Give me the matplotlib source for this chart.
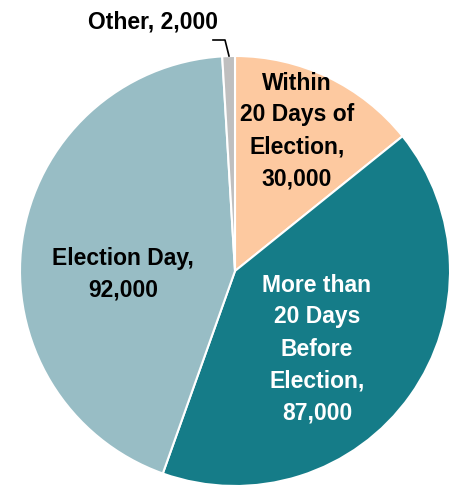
import matplotlib.pyplot as plt
from matplotlib import font_manager

names = ["Within\n20 Days of\nElection,", "More than\n20 Days\nBefore\nElection,", "Election Day,", "Other,"]
values = [30000, 87000, 92000, 2000]
colors = ['#FDC9A0', '#157C88', '#98BDC5', '#BFBFBF']

avail = {f.name for f in font_manager.fontManager.ttflist}
fam = ['Liberation Sans Narrow', 'Liberation Sans', 'DejaVu Sans']
fam = [f for f in fam if f in avail] or ['DejaVu Sans']
plt.rcParams['font.family'] = fam

W, H = 449, 487
cx, cy, r = 235, 271, 215
fig = plt.figure(figsize=(W/100, H/100), dpi=100)
ax = fig.add_axes([(cx-r)/W, (H-cy-r)/H, 2*r/W, 2*r/H])
ax.pie(values, colors=colors, startangle=90, counterclock=False,
       wedgeprops=dict(edgecolor='white', linewidth=1.5))
ax.set_xlim(-1, 1)
ax.set_ylim(-1, 1)
ax.set_aspect('equal')
ax.axis('off')

def lab(i):
    return names[i] + ("\n" if i < 3 else " ") + f"{values[i]:,}"

def px(x, y):
    return (x-cx)/r, (cy-y)/r

kw = dict(ha='center', va='center', fontsize=16.5, fontweight='bold', linespacing=1.5)
ax.text(*px(297, 131), lab(0), color='black', **kw)
ax.text(*px(317, 349), lab(1), color='white', **kw)
ax.text(*px(123, 274), lab(2), color='black', **kw)
ax.text(*px(153, 22), lab(3), color='black', clip_on=False, **kw)

xs, ys = zip(px(213, 40), px(225, 40), px(229, 56))
ax.plot(xs, ys, color='black', lw=1.2, clip_on=False)

fig.savefig('out.png', dpi=100)
